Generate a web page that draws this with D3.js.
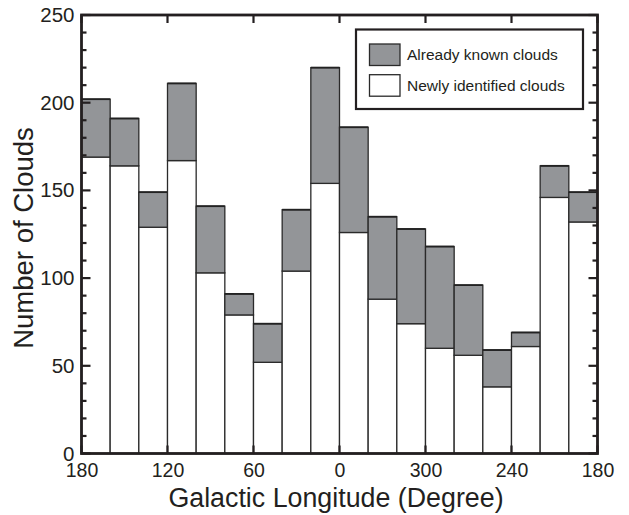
<!DOCTYPE html>
<html><head><meta charset="utf-8">
<script src="https://cdn.jsdelivr.net/npm/d3@7"></script>
<style>body{margin:0;background:#fff}svg{display:block}text{font-family:"Liberation Sans",Arial,sans-serif;fill:#231f20}</style>
</head><body><svg id="c" width="629" height="515"></svg>
<script>
// Bin start longitudes (each bin spans 20 degrees toward lower longitude)
const binStart = [180,160,140,120,100,80,60,40,20,0,340,320,300,280,260,240,220,200];
const newlyIdentified = [169,164,129,167,103,79,52,104,154,126,88,74,60,56,38,61,146,132];
const alreadyKnown   = [33,27,20,44,38,12,22,35,66,60,47,54,58,40,21,8,18,17];
const xTickLabels = [180,120,60,0,300,240,180];
const yTicks = [0,50,100,150,200,250];
const seriesNames = ["Already known clouds","Newly identified clouds"];

const svg = d3.select("#c");
const L=81.5, R=597.5, T=15, B=453.5;
const toSigned = l => l>180 ? l-360 : l;
const x = d3.scaleLinear().domain([180,-180]).range([L,R]);
const y = d3.scaleLinear().domain([0,250]).range([B,T]);
const gray = "#939598", ink="#231f20";

const data = binStart.map((s,i)=>({s:toSigned(s), n:newlyIdentified[i], k:alreadyKnown[i]}));
// bars
const g = svg.append("g");
data.forEach(d=>{
  const x0 = x(d.s), x1 = x(d.s-20);
  g.append("rect").attr("x",x0).attr("width",x1-x0).attr("y",y(d.n)).attr("height",y(0)-y(d.n))
    .attr("fill","#fff").attr("stroke","#2a2a2a").attr("stroke-width",1.3);
  g.append("rect").attr("x",x0).attr("width",x1-x0).attr("y",y(d.n+d.k)).attr("height",y(d.n)-y(d.n+d.k))
    .attr("fill",gray).attr("stroke","#2a2a2a").attr("stroke-width",1.3);
  g.append("line").attr("x1",x0).attr("x2",x1).attr("y1",y(d.n+d.k)).attr("y2",y(d.n+d.k))
    .attr("stroke","#222").attr("stroke-width",1.8);
});

// axes
const xVals = [180,120,60,0,-60,-120,-180];
const yMinor = d3.range(0,251,10);
const axB = d3.axisBottom(x).tickValues(xVals).tickSize(0).tickPadding(10).tickFormat((v,i)=>xTickLabels[i]);
const axL = d3.axisLeft(y).tickValues(yTicks).tickSize(0).tickPadding(7);
const gb = svg.append("g").attr("transform",`translate(0,${B})`).call(axB);
gb.select(".domain").remove();
gb.selectAll("text").attr("font-size",19.5).style("fill",ink);
const gl = svg.append("g").attr("transform",`translate(${L},0)`).call(axL);
gl.select(".domain").remove();
gl.selectAll("text").attr("font-size",20.5).style("fill",ink);

// ticks (inward)
const tk = svg.append("g").attr("stroke",ink);
yMinor.forEach(v=>{
  const len = v%50===0 ? 9 : 5;
  tk.append("line").attr("x1",L).attr("x2",L+len).attr("y1",y(v)).attr("y2",y(v)).attr("stroke-width",2.2);
  tk.append("line").attr("x1",R).attr("x2",R-len).attr("y1",y(v)).attr("y2",y(v)).attr("stroke-width",2.2);
});
xVals.forEach(v=>{
  tk.append("line").attr("x1",x(v)).attr("x2",x(v)).attr("y1",B).attr("y2",B-8).attr("stroke-width",2.2);
  tk.append("line").attr("x1",x(v)).attr("x2",x(v)).attr("y1",T).attr("y2",T+8).attr("stroke-width",2.2);
});
// frame
svg.append("rect").attr("x",L).attr("y",T).attr("width",R-L).attr("height",B-T)
  .attr("fill","none").attr("stroke",ink).attr("stroke-width",2.8);

// titles
svg.append("text").attr("x",336).attr("y",507).attr("text-anchor","middle").attr("font-size",26.8).text("Galactic Longitude (Degree)");
svg.append("text").attr("transform",`translate(33,238) rotate(-90)`).attr("text-anchor","middle").attr("font-size",27.5).text("Number of Clouds");

// legend
const lg = svg.append("g");
lg.append("rect").attr("x",356).attr("y",29.5).attr("width",227).attr("height",79.5).attr("fill","#fff").attr("stroke",ink).attr("stroke-width",2.2);
const fills=[gray,"#fff"];
seriesNames.forEach((nm,i)=>{
  const yy = 44 + i*30.7;
  lg.append("rect").attr("x",369.5).attr("y",yy).attr("width",30.5).attr("height",21.5).attr("fill",fills[i]).attr("stroke","#2a2a2a").attr("stroke-width",1.3);
  lg.append("text").attr("x",407).attr("y",yy+16).attr("font-size",15.5).text(nm);
});
</script></body></html>
